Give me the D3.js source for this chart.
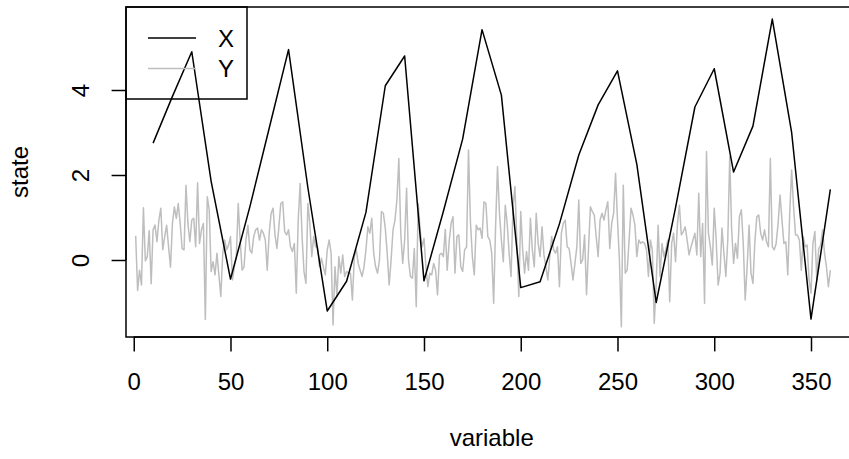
<!DOCTYPE html>
<html><head><meta charset="utf-8">
<script src="https://cdn.jsdelivr.net/npm/d3@7"></script>
<style>body{margin:0;background:#fff}svg{display:block}text{font-family:"Liberation Sans",Arial,sans-serif;fill:#000}</style>
</head><body>
<svg id="c" width="849" height="459"></svg>
<script>
const xTime = [10,20,30,40,50,60,70,80,90,100,110,120,130,140,150,160,170,180,190,200,210,220,230,240,250,260,270,280,290,300,310,320,330,340,350,360];
const xState = [2.75,3.85,4.9,1.85,-0.45,1.25,3.1,4.95,1.7,-1.2,-0.5,1.12,4.1,4.8,-0.49,1.14,2.85,5.42,3.88,-0.65,-0.51,0.85,2.47,3.65,4.45,2.25,-1.0,1.23,3.6,4.5,2.07,3.15,5.67,3.0,-1.39,1.66];
const yState = [0.57,-0.72,-0.24,-0.59,1.23,-0.02,0.08,0.69,-0.56,0.71,0.82,0.43,0.94,1.22,0.24,0.55,0.82,0.31,-0.17,0.86,
1.25,0.98,1.33,0.86,0.27,0.24,1.76,0.86,0.43,0.94,0.98,0.31,1.82,0.39,0.71,0.86,-1.40,1.49,1.18,-0.27,
-0.04,-0.35,0.16,-0.35,-0.86,0.16,0.47,0.24,0.35,0.55,-0.47,-0.16,0.08,1.33,0.47,-0.24,-0.16,0.47,0.82,0.24,
0.16,0.55,0.71,0.75,0.47,0.71,0.63,0.47,-0.24,0.63,1.10,1.22,0.59,0.27,0.78,1.33,1.37,0.67,0.59,0.71,
0.31,0.20,0.39,-0.78,0.94,1.80,0.55,-0.28,-0.55,1.33,0.86,0.08,0.55,0.31,0.31,-0.16,0.04,-0.16,-0.35,0.24,
0.47,0.16,-1.53,-0.16,-0.86,0.08,-0.31,0.12,-0.39,-0.27,-0.31,-0.31,-0.94,0.08,0.24,-0.08,-0.24,-0.39,-0.16,0.24,
0.78,0.63,0.98,0.16,-0.16,-0.31,0.0,1.14,1.10,0.75,0.15,-0.59,0.0,0.71,0.94,1.41,2.39,0.63,-0.08,0.47,
1.69,0.0,-0.39,-0.43,0.27,-1.10,1.33,0.71,0.31,0.51,-0.16,-0.63,-0.31,-0.35,-0.08,-0.24,-0.82,0.12,0.16,0.08,
0.72,-0.24,0.43,0.86,1.02,-0.31,0.55,0.59,-0.16,-0.27,0.24,0.31,2.59,0.9,0.08,-0.35,0.82,0.71,0.75,0.51,
1.37,1.33,0.55,0.47,0.16,-1.02,0.78,2.20,1.10,0.47,-0.04,1.29,0.86,0.16,-0.39,1.25,1.73,0.43,-0.86,1.14,
0.24,-0.31,0.20,-0.24,0.98,0.24,-0.16,1.10,0.39,0.08,0.78,0.12,-0.16,-0.47,0.08,0.55,0.24,0.16,0.31,-0.63,
0.63,0.86,0.94,0.31,0.27,-0.08,-0.47,-0.08,0.31,1.41,-0.08,0.0,0.59,-0.82,0.24,1.25,1.14,1.06,0.55,0.08,
0.94,1.10,0.94,1.18,1.37,0.27,0.86,1.10,2.04,0.94,0.0,-1.57,1.76,-0.31,-0.24,0.47,1.22,1.06,0.82,0.08,
0.47,0.39,0.43,0.39,0.24,-0.39,0.47,0.24,-1.49,-0.55,0.82,-0.39,0.39,0.08,0.24,0.47,-0.98,0.39,0.63,-0.04,
0.86,1.29,0.59,0.67,0.78,0.47,0.12,0.31,0.47,0.63,0.12,1.57,0.08,0.86,-1.02,2.55,0.63,0.31,-0.12,1.22,
0.47,-0.59,-0.31,0.75,0.16,-0.39,0.47,2.43,0.71,-0.08,0.39,0.04,1.02,1.18,0.39,-0.94,-0.16,0.82,-0.31,-0.55,
0.43,1.02,1.06,0.63,0.47,0.71,0.43,0.31,2.39,0.31,0.24,0.39,0.86,1.53,0.94,0.39,0.43,-0.35,1.10,2.12,
1.25,0.59,0.59,0.47,-0.24,0.55,0.31,0.35,-0.47,-0.78,0.39,0.67,-0.47,0.27,0.35,0.71,0.16,-0.16,-0.63,-0.24];
const yTime = d3.range(1, yState.length + 1);
const xTicks = [0,50,100,150,200,250,300,350];
const yTicks = [0,2,4];
const seriesNames = ["X","Y"];
const seriesColors = ["#000000","#BEBEBE"];

const svg = d3.select("#c");
const L = 126, T = 7, B = 337;
const x = d3.scaleLinear().domain([-4, 374]).range([L, L + 378*1.935]);
const y = d3.scaleLinear().domain([-1.812, 5.953]).range([B, T]);

// data lines
const line = d3.line().x(d => x(d[0])).y(d => y(d[1]));
svg.append("path").datum(yTime.map((t,i)=>[t,yState[i]]))
  .attr("d", line).attr("fill","none").attr("stroke", seriesColors[1]).attr("stroke-width",1.5).attr("stroke-linejoin","round");
svg.append("path").datum(xTime.map((t,i)=>[t,xState[i]]))
  .attr("d", line).attr("fill","none").attr("stroke", seriesColors[0]).attr("stroke-width",1.5).attr("stroke-linejoin","round");

// box
svg.append("rect").attr("x",L).attr("y",T).attr("width",x.range()[1]-L).attr("height",B-T)
  .attr("fill","none").attr("stroke","#000").attr("stroke-width",1.5);

// x axis
const xa = svg.append("g").attr("transform",`translate(0,${B})`)
  .call(d3.axisBottom(x).tickValues(xTicks).tickSize(14.4).tickPadding(0).tickFormat(d3.format("d")));
xa.select(".domain").attr("d",`M${x(0)},0H${x(350)}`).attr("stroke-width",1.5);
xa.selectAll(".tick line").attr("stroke-width",1.5);
xa.selectAll(".tick text").attr("font-size",24).attr("y",53).attr("dy",0).style("font-family",'"Liberation Sans",Arial,sans-serif');

// y axis
const ya = svg.append("g").attr("transform",`translate(${L},0)`)
  .call(d3.axisLeft(y).tickValues(yTicks).tickSize(14.4).tickFormat(d3.format("d")));
ya.select(".domain").attr("d",`M0,${y(0)}V${y(4)}`).attr("stroke-width",1.5);
ya.selectAll(".tick line").attr("stroke-width",1.5);
ya.selectAll(".tick text").attr("font-size",24).attr("x",0).attr("dy",0)
  .attr("text-anchor","middle").attr("transform","translate(-37,0) rotate(-90)")
  .style("font-family",'"Liberation Sans",Arial,sans-serif');

// axis titles
svg.append("text").attr("x",(L + x.range()[1])/2).attr("y",446).attr("text-anchor","middle").attr("font-size",24).text("variable");
svg.append("text").attr("transform",`translate(28,${(T+B)/2}) rotate(-90)`).attr("text-anchor","middle").attr("font-size",24).text("state");

// legend
const lg = svg.append("g");
lg.append("rect").attr("x",L).attr("y",T).attr("width",121).attr("height",92).attr("fill","none").attr("stroke","#000").attr("stroke-width",1.5);
seriesNames.forEach((n,i)=>{
  const yy = 38 + i*30.5;
  lg.append("line").attr("x1",148).attr("x2",196).attr("y1",yy).attr("y2",yy).attr("stroke",seriesColors[i]).attr("stroke-width",1.5);
  lg.append("text").attr("x",218).attr("y",yy+8.6).attr("font-size",24).text(n);
});
</script>
</body></html>
